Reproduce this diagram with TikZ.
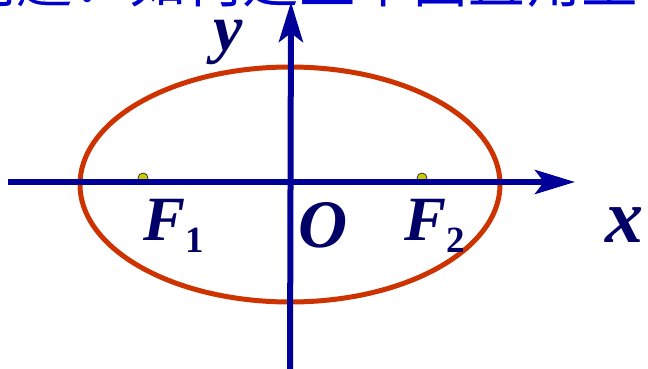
\documentclass[tikz,border=0pt]{standalone}
\usepackage{fontspec}
\setmainfont{Liberation Serif}
\newfontfamily\cjk{Noto Sans CJK SC}
\usetikzlibrary{arrows.meta}
\definecolor{axisblue}{HTML}{000099}
\definecolor{labelnavy}{HTML}{000066}
\definecolor{titleblue}{HTML}{0000CC}
\definecolor{ellred}{HTML}{CC3300}
\definecolor{focusfill}{HTML}{CCCC00}
\tikzset{
  axisline/.style={draw=axisblue, line width=6pt, -{Stealth[length=40pt,width=24pt,inset=9pt]}},
  lbl/.style={text=labelnavy, inner sep=0pt, anchor=base west, font=\bfseries\itshape},
  focusdot/.style={circle, fill=focusfill, draw=black!80, line width=0.8pt, minimum size=10pt, inner sep=0pt},
}
\begin{document}
\begin{tikzpicture}[x=1pt,y=-1pt]
\useasboundingbox (0,0) rectangle (648,369);
\clip (0,0) rectangle (648,369);
\node[anchor=base west, inner sep=0pt, text=titleblue, font={\cjk\fontsize{56.5}{60}\selectfont}] (title) at (-40,2.5) {问题：如何建立平面直角坐标系};
\draw[ellred, line width=5pt] (290,184.5) ellipse [x radius=210, y radius=117.5];
\node[focusdot] (f1) at (143,178) {};
\node[focusdot] (f2) at (422,178) {};
\coordinate (xs) at (8,182);
\coordinate (xe) at (575,182);
\coordinate (ys) at (290,375);
\coordinate (ye) at (291,2);
\draw[axisline] (xs) -- (xe);
\draw[axisline] (ys) -- (ye);
\node[lbl, font={\bfseries\itshape\fontsize{63}{63}\selectfont}] (F1) at (143,240) {F\raisebox{-12pt}{\upshape\fontsize{37}{37}\selectfont 1}};
\node[lbl, font={\bfseries\itshape\fontsize{63}{63}\selectfont}] (F2) at (404,240) {F\raisebox{-12pt}{\upshape\fontsize{37}{37}\selectfont 2}};
\node[lbl, font={\bfseries\itshape\fontsize{68}{68}\selectfont}] (O) at (298,247) {O};
\node[lbl, font={\bfseries\itshape\fontsize{76}{76}\selectfont}] (X) at (605,242) {x};
\node[lbl, font={\bfseries\itshape\fontsize{66}{66}\selectfont}] (Y) at (213,51) {y};
\end{tikzpicture}
\end{document}
